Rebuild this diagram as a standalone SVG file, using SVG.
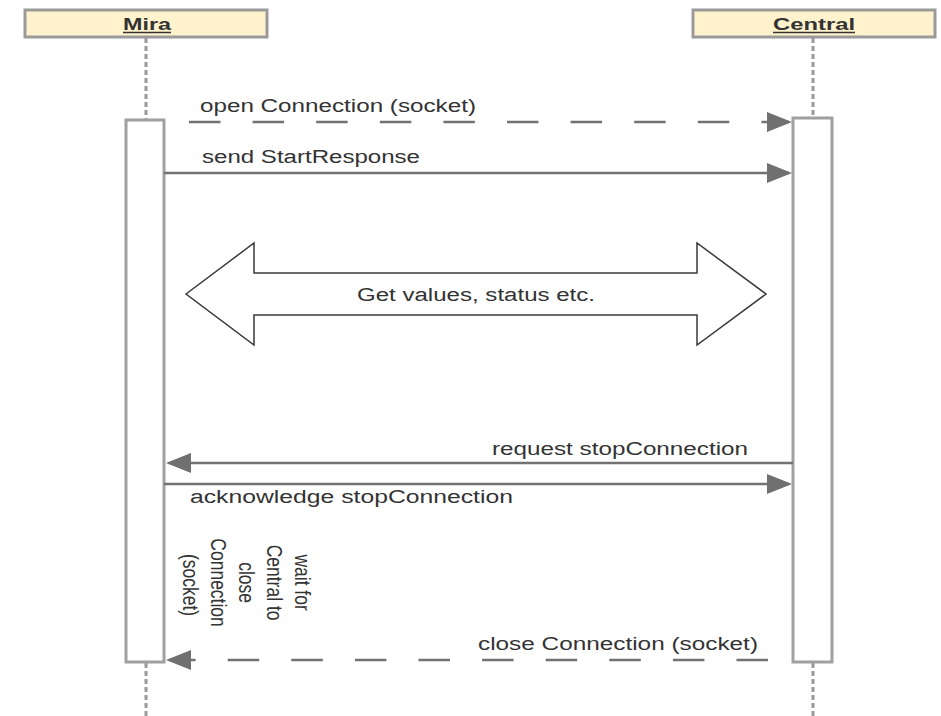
<svg xmlns="http://www.w3.org/2000/svg" width="941" height="716" viewBox="0 0 941 716">
  <defs>
    <marker id="head" viewBox="0 0 25 20" markerUnits="userSpaceOnUse" markerWidth="25" markerHeight="20" refX="22" refY="10" orient="auto">
      <path d="M0,0 L25,10 L0,20 z" fill="#707070"/>
    </marker>
    <style>
      .hdr { fill: #fff2cc; stroke: #9a9a9a; stroke-width: 3; }
      .hdrtxt { font-family: "Liberation Sans", Arial, sans-serif; font-size: 17px; font-weight: bold; fill: #333; text-anchor: middle; }
      .uline { stroke: #333; stroke-width: 1.4; }
      .life { stroke: #9a9a9a; stroke-width: 3; stroke-dasharray: 5 3; fill: none; }
      .act { fill: #fff; stroke: #a0a0a0; stroke-width: 3; }
      .msg { stroke: #727272; stroke-width: 2.5; fill: none; marker-end: url(#head); }
      .dash { stroke-dasharray: 31.5 32.1; }
      .lbl { font-family: "Liberation Sans", Arial, sans-serif; font-size: 18px; fill: #333; }
      .big { fill: #fff; stroke: #3a3a3a; stroke-width: 1.5; stroke-linejoin: miter; }
    </style>
  </defs>
  <rect width="941" height="716" fill="#fff"/>

  <g id="mira">
    <line class="life" x1="146" y1="38" x2="146" y2="120"/>
    <line class="life" x1="146" y1="663" x2="146" y2="716"/>
    <rect class="hdr" x="25" y="10" width="242" height="27"/>
    <text class="hdrtxt" x="147" y="29.5" textLength="48" lengthAdjust="spacingAndGlyphs">Mira</text>
    <line class="uline" x1="123" y1="32.5" x2="171" y2="32.5"/>
    <rect class="act" x="126" y="120" width="38" height="542"/>
  </g>

  <g id="central">
    <line class="life" x1="813" y1="38" x2="813" y2="118"/>
    <line class="life" x1="813" y1="663" x2="813" y2="716"/>
    <rect class="hdr" x="693" y="10" width="242" height="27"/>
    <text class="hdrtxt" x="814" y="29.5" textLength="82" lengthAdjust="spacingAndGlyphs">Central</text>
    <line class="uline" x1="773" y1="32.5" x2="855" y2="32.5"/>
    <rect class="act" x="793" y="118" width="39" height="544"/>
  </g>

  <g id="exchange">
    <polygon class="big" points="186,294 254,243 254,273 697,273 697,243 766,294 697,345 697,315 254,315 254,345"/>
    <text class="lbl" x="476" y="301" text-anchor="middle" textLength="238" lengthAdjust="spacingAndGlyphs">Get values, status etc.</text>
  </g>

  <g id="wait-note">
    <text class="lbl" style="font-size:17.5px" text-anchor="middle" transform="translate(249,585) scale(1.25,1) rotate(90)">
      <tspan x="0" y="-37">wait for</tspan>
      <tspan x="0" y="-14.6">Central to</tspan>
      <tspan x="0" y="7.8">close</tspan>
      <tspan x="0" y="30.2">Connection</tspan>
      <tspan x="0" y="52.6">(socket)</tspan>
    </text>
  </g>

  <g id="connectors">
    <g id="m1">
      <path class="msg dash" d="M189,122 H789"/>
      <text class="lbl" x="200" y="112" textLength="276" lengthAdjust="spacingAndGlyphs">open Connection (socket)</text>
    </g>
    <g id="m2">
      <path class="msg" d="M164,173 H789"/>
      <text class="lbl" x="202" y="163" textLength="218" lengthAdjust="spacingAndGlyphs">send StartResponse</text>
    </g>
    <g id="m3">
      <path class="msg" d="M793,463 H169"/>
      <text class="lbl" x="492" y="455" textLength="256" lengthAdjust="spacingAndGlyphs">request stopConnection</text>
    </g>
    <g id="m4">
      <path class="msg" d="M164,484 H789"/>
      <text class="lbl" x="190" y="503" textLength="323" lengthAdjust="spacingAndGlyphs">acknowledge stopConnection</text>
    </g>
    <g id="m5">
      <path class="msg dash" d="M768,660 H169"/>
      <text class="lbl" x="478" y="650" textLength="280" lengthAdjust="spacingAndGlyphs">close Connection (socket)</text>
    </g>
  </g>
</svg>
